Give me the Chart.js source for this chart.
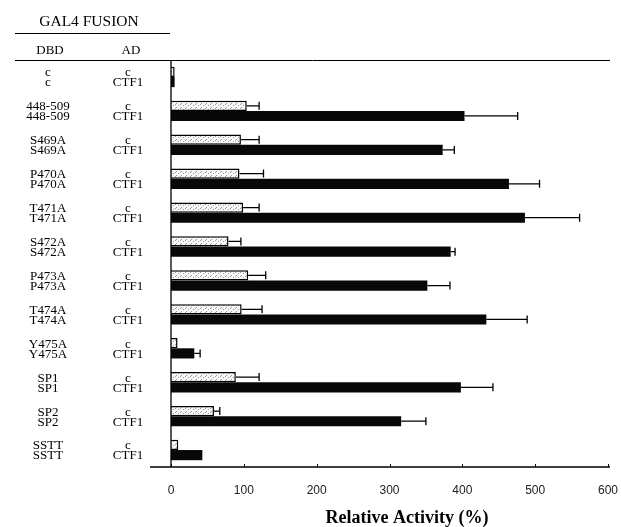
<!DOCTYPE html>
<html>
<head>
<meta charset="utf-8">
<script src="https://cdn.jsdelivr.net/npm/chart.js@4"></script>
<style>
  html, body { margin: 0; padding: 0; background: #fff; overflow: hidden; }
  #wrap { width: 621px; height: 527px; }
</style>
</head>
<body>
<div id="wrap"><canvas id="activity-chart"></canvas></div>
<script>
// GAL4 fusion constructs (DBD row label, AD labels for the two bars)
const dbdLabels = ['c', '448-509', 'S469A', 'P470A', 'T471A', 'S472A', 'P473A', 'T474A', 'Y475A', 'SP1', 'SP2', 'SSTT'];
const adTopLabels = ['c', 'c', 'c', 'c', 'c', 'c', 'c', 'c', 'c', 'c', 'c', 'c'];
const adBottomLabels = ['CTF1', 'CTF1', 'CTF1', 'CTF1', 'CTF1', 'CTF1', 'CTF1', 'CTF1', 'CTF1', 'CTF1', 'CTF1', 'CTF1'];

// Relative activity (%)
const controlValues = [5, 104, 96, 94, 99, 79, 106, 97, 9, 89, 59, 10];
const controlErrors = [0, 17, 25, 33, 22, 17, 24, 28, 0, 32, 8, 0];
const ctf1Values = [5, 403, 373, 464, 486, 384, 352, 433, 32, 398, 316, 43];
const ctf1Errors = [0, 73, 16, 42, 75, 6, 31, 56, 8, 44, 34, 0];

const xTicks = [0, 100, 200, 300, 400, 500, 600];

const SERIF = '"Liberation Serif", "DejaVu Serif", serif';

/**
 * Speckled fill used for the light (AD = c) bars
 */
function makeSpeckle() {
    const c = document.createElement('canvas');
    c.width = 5;
    c.height = 4;
    const g = c.getContext('2d');
    g.fillStyle = '#f7f7f7';
    g.fillRect(0, 0, 5, 4);
    g.fillStyle = '#9a9a9a';
    [[0, 0], [3, 1], [1, 3]].forEach(p => g.fillRect(p[0], p[1], 1, 1));
    return g.createPattern(c, 'repeat');
}

// One-sided error bars with a cap
const errorBarPlugin = {
    id: 'errorBars',
    afterDatasetsDraw(chart) {
        const ctx = chart.ctx;
        const x = chart.scales.x;
        const errs = [controlErrors, ctf1Errors];
        const vals = [controlValues, ctf1Values];
        ctx.save();
        ctx.strokeStyle = '#000';
        ctx.lineWidth = 1.3;
        errs.forEach((errList, d) => {
            const meta = chart.getDatasetMeta(d);
            meta.data.forEach((bar, i) => {
                if (!errList[i]) return;
                const x0 = x.getPixelForValue(vals[d][i]);
                const x1 = x.getPixelForValue(vals[d][i] + errList[i]);
                ctx.beginPath();
                ctx.moveTo(x0, bar.y);
                ctx.lineTo(x1, bar.y);
                ctx.moveTo(x1, bar.y - 4);
                ctx.lineTo(x1, bar.y + 4);
                ctx.stroke();
            });
        });
        ctx.restore();
    }
};

// Header, row labels, axis title and axis lines
const tablePlugin = {
    id: 'gal4Table',
    afterDraw(chart) {
        const ctx = chart.ctx;
        const area = chart.chartArea;
        const y = chart.scales.y;
        const x = chart.scales.x;
        ctx.save();
        ctx.fillStyle = '#000';
        ctx.strokeStyle = '#000';
        ctx.textAlign = 'center';
        ctx.textBaseline = 'middle';

        ctx.font = '15.5px ' + SERIF;
        ctx.fillText('GAL4 FUSION', 89, 22);
        ctx.font = '13px ' + SERIF;
        ctx.fillText('DBD', 50, 51);
        ctx.fillText('AD', 131, 51);

        // x axis title (sits right of the plot centre in the original)
        ctx.font = 'bold 18px ' + SERIF;
        ctx.fillText('Relative Activity (%)', 407, 518);

        ctx.lineWidth = 1;
        ctx.beginPath();
        ctx.moveTo(15, 33.5);
        ctx.lineTo(170, 33.5);
        ctx.moveTo(15, area.top + 0.5);
        ctx.lineTo(area.right + 2, area.top + 0.5);
        ctx.stroke();

        // axis lines
        ctx.lineWidth = 1.3;
        ctx.beginPath();
        ctx.moveTo(area.left, area.top);
        ctx.lineTo(area.left, area.bottom);
        ctx.moveTo(150, area.bottom);
        ctx.lineTo(area.right + 2, area.bottom);
        ctx.stroke();

        // small inward ticks
        ctx.lineWidth = 1;
        ctx.beginPath();
        xTicks.forEach(v => {
            const px = Math.round(x.getPixelForValue(v)) + 0.5;
            ctx.moveTo(px, area.bottom);
            ctx.lineTo(px, area.bottom - 3);
        });
        ctx.stroke();

        // row labels
        ctx.font = '13px ' + SERIF;
        dbdLabels.forEach((label, i) => {
            const cy = y.getPixelForValue(i);
            ctx.fillText(label, 48, cy - 4);
            ctx.fillText(label, 48, cy + 6);
            ctx.fillText(adTopLabels[i], 128, cy - 4);
            ctx.fillText(adBottomLabels[i], 128, cy + 6);
        });
        ctx.restore();
    }
};

function createActivityChart() {
    const canvas = document.getElementById('activity-chart');
    new Chart(canvas, {
        type: 'bar',
        data: {
            labels: dbdLabels,
            datasets: [{
                label: 'c',
                data: controlValues,
                backgroundColor: makeSpeckle(),
                borderColor: '#000',
                borderWidth: 1.5,
                borderSkipped: 'start'
            }, {
                label: 'CTF1',
                data: ctf1Values,
                backgroundColor: '#080808',
                borderWidth: 0
            }]
        },
        plugins: [errorBarPlugin, tablePlugin],
        options: {
            indexAxis: 'y',
            responsive: true,
            maintainAspectRatio: false,
            animation: false,
            events: [],
            layout: {
                padding: { left: 171, top: 60, right: 0, bottom: 0 }
            },
            datasets: {
                bar: {
                    categoryPercentage: 0.6,
                    barPercentage: 1.0
                }
            },
            scales: {
                x: {
                    min: 0,
                    max: 600,
                    afterBuildTicks(scale) {
                        scale.ticks = xTicks.map(v => ({ value: v }));
                    },
                    afterFit(scale) {
                        scale.height = 60;
                        scale.paddingLeft = 0;
                        scale.paddingRight = 13;
                    },
                    grid: { display: false, drawTicks: false },
                    border: { display: false },
                    ticks: {
                        padding: 16,
                        color: '#222',
                        font: { family: '"Liberation Sans", Arial, sans-serif', size: 12 }
                    }
                },
                y: {
                    grid: { display: false, drawTicks: false },
                    border: { display: false },
                    ticks: { display: false }
                }
            },
            plugins: {
                legend: { display: false },
                tooltip: { enabled: false }
            }
        }
    });
}

createActivityChart();
</script>
</body>
</html>
